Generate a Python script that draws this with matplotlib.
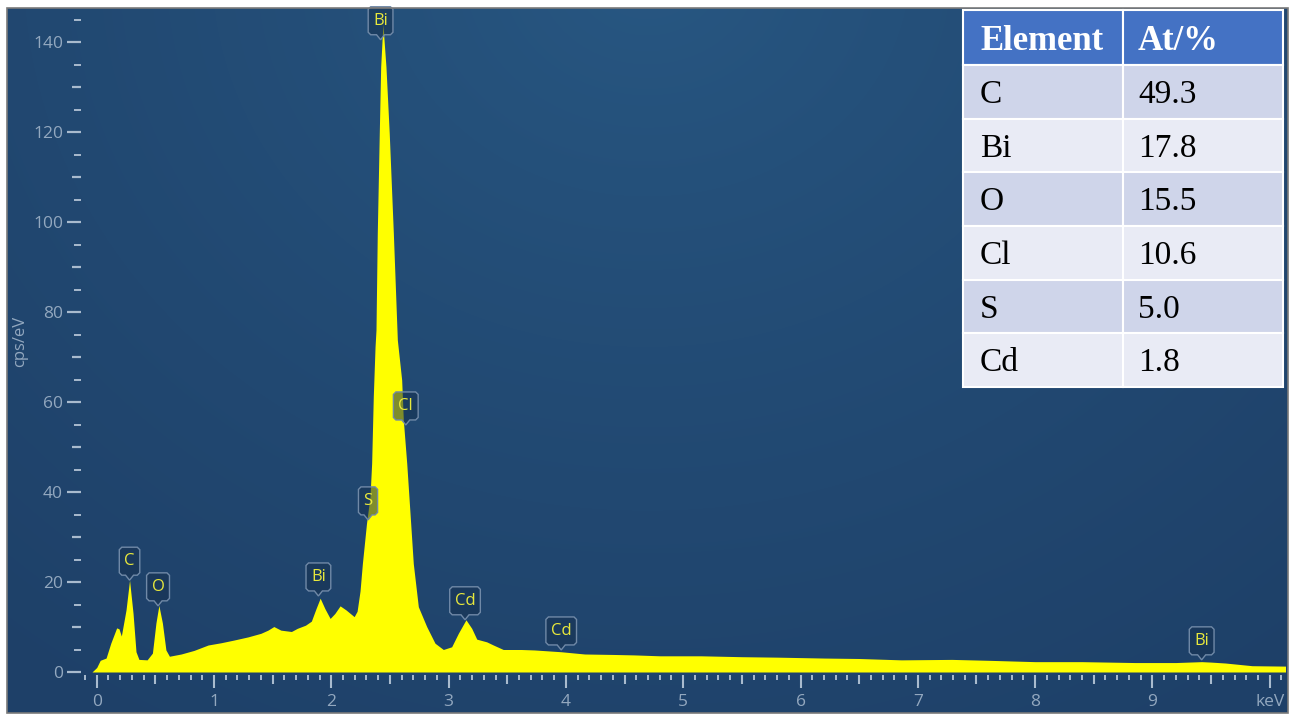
import numpy as np
import matplotlib
matplotlib.use('Agg')
import matplotlib.pyplot as plt
import matplotlib.transforms as mtransforms
from matplotlib.patches import Polygon, Rectangle
from matplotlib.ticker import FixedLocator, FuncFormatter

W, H = 1291, 715

# EDS spectrum, energy in keV and intensity in cps/eV
energy = [-0.04, 0.0, 0.03, 0.08, 0.12, 0.17, 0.19, 0.21, 0.25, 0.28, 0.31, 0.335, 0.36, 0.43,
          0.475, 0.505, 0.53, 0.56, 0.59, 0.62, 0.72, 0.83, 0.95, 1.06, 1.17, 1.29, 1.40,
          1.46, 1.51, 1.57, 1.66, 1.71, 1.78, 1.83, 1.87, 1.905, 1.945, 1.99, 2.03, 2.075,
          2.125, 2.195, 2.22, 2.245, 2.265, 2.30, 2.33, 2.344, 2.358, 2.373, 2.381, 2.392,
          2.409, 2.421, 2.436, 2.442, 2.448, 2.466, 2.494, 2.529, 2.563, 2.600, 2.614,
          2.643, 2.671, 2.699, 2.742, 2.813, 2.884, 2.955, 3.026, 3.083, 3.148, 3.197,
          3.24, 3.325, 3.381, 3.466, 3.62, 3.73, 3.96, 4.16, 4.4, 4.58, 4.8, 5.15, 5.5,
          5.8, 6.0, 6.2, 6.5, 6.86, 7.29, 7.6, 8.0, 8.4, 8.85, 9.2, 9.42, 9.5, 9.62,
          9.85, 10.16]
cps = [0.0, 1.0, 2.6, 3.1, 6.4, 9.8, 9.6, 8.0, 13.8, 20.4, 13.0, 4.5, 2.8, 2.7,
       4.2, 10.9, 14.8, 10.9, 4.9, 3.5, 4.0, 4.8, 6.0, 6.5, 7.1, 7.8, 8.6,
       9.3, 10.1, 9.3, 9.0, 9.7, 10.4, 11.3, 14.1, 16.4, 14.1, 11.9, 13.0, 14.7,
       13.8, 12.3, 13.5, 18.0, 24.1, 33.0, 39.0, 46.4, 61.2, 72.3, 76.0, 97.5,
       119.7, 134.5, 142.0, 144.0, 141.0, 134.5, 119.7, 97.5, 73.8, 64.9, 56.0,
       46.4, 35.3, 24.1, 14.5, 10.1, 6.4, 5.0, 5.6, 8.6, 11.6, 9.7,
       7.3, 6.7, 6.0, 5.0, 5.0, 4.9, 4.5, 4.0, 3.9, 3.8, 3.6, 3.6, 3.4,
       3.3, 3.2, 3.1, 3.0, 2.7, 2.8, 2.6, 2.3, 2.3, 2.1, 2.1, 2.3, 2.2, 2.0,
       1.4, 1.3]

# peak identification markers
peak_names = ['C', 'O', 'Bi', 'S', 'Bi', 'Cl', 'Cd', 'Cd', 'Bi']
peak_kev = [0.28, 0.523, 1.89, 2.313, 2.42, 2.635, 3.14, 3.96, 9.42]
peak_cps = [20.4, 14.7, 16.9, 33.8, 140.5, 54.9, 11.6, 4.9, 2.7]

# quantification table
elements = ['C', 'Bi', 'O', 'Cl', 'S', 'Cd']
at_pct = [49.3, 17.8, 15.5, 10.6, 5.0, 1.8]

tick_col = '#a9bbce'
label_col = '#93a8bf'
yellow = '#ffff00'
tag_yellow = '#e8e83c'


def fx(px):
    return px / W


def fy(py):
    return 1 - py / H


fig = plt.figure(figsize=(W / 100, H / 100), dpi=100)
fig.patch.set_facecolor('white')

# navy panel with a soft radial glow near the top
bg = fig.add_axes([fx(7), fy(713), fx(1288) - fx(7), fy(8) - fy(713)])
bg.set_axis_off()
yy, xx = np.mgrid[0:705, 0:1281]
r = np.hypot((xx - 640) / 1.15, yy + 40) / 900.0
r = np.clip(r, 0, 1) ** 0.8
c_in = np.array([40, 88, 131]) / 255.0
c_out = np.array([30, 64, 104]) / 255.0
img = c_in[None, None, :] * (1 - r[..., None]) + c_out[None, None, :] * r[..., None]
bg.imshow(img, aspect='auto', interpolation='bilinear')
fig.patches.append(Rectangle((fx(7), fy(713)), fx(1288) - fx(7), fy(8) - fy(713),
                             transform=fig.transFigure, fill=False,
                             edgecolor='#7a7a7a', lw=1.2))

ax = fig.add_axes([fx(81), fy(675), fx(1285) - fx(81), fy(10) - fy(675)])
ax.set_facecolor('none')
ax.set_xlim((81 - 96.7) / 117.3, (1285 - 96.7) / 117.3)
ax.set_ylim(-3 / 4.5, 662 / 4.5)
for s in ax.spines.values():
    s.set_visible(False)

ax.fill_between(energy, cps, 0, color=yellow, lw=0, zorder=3)

# ticks: long at labelled values, medium in between, short minors
ax.xaxis.set_major_locator(FixedLocator(np.arange(0, 10.01, 0.5)))
ax.xaxis.set_minor_locator(FixedLocator(np.arange(-0.1, 10.15, 0.1)))
ax.yaxis.set_major_locator(FixedLocator(np.arange(0, 141, 10)))
ax.yaxis.set_minor_locator(FixedLocator(np.arange(5, 146, 10)))


def xfmt(v, pos):
    if abs(v - 10) < 1e-6:
        return 'keV'
    if abs(v - round(v)) < 1e-6:
        return str(int(round(v)))
    return ''


def yfmt(v, pos):
    return str(int(v)) if int(round(v)) % 20 == 0 else ''


ax.xaxis.set_major_formatter(FuncFormatter(xfmt))
ax.yaxis.set_major_formatter(FuncFormatter(yfmt))
ax.tick_params(axis='both', which='both', direction='out', colors=tick_col,
               labelcolor=label_col, labelsize=12.5)
ax.tick_params(axis='x', which='major', length=9.4, width=1.5, pad=4)
ax.tick_params(axis='x', which='minor', length=3.6, width=1.4)
ax.tick_params(axis='y', which='major', length=10, width=1.6, pad=3)
ax.tick_params(axis='y', which='minor', length=5, width=1.4)
for lab in ax.get_xticklabels() + ax.get_yticklabels():
    lab.set_family('Open Sans')

for loc, t in zip(ax.xaxis.get_majorticklocs(), ax.xaxis.get_major_ticks()):
    if abs(loc - round(loc)) > 1e-6:
        t.tick1line.set_markersize(6.5)
for loc, t in zip(ax.yaxis.get_majorticklocs(), ax.yaxis.get_major_ticks()):
    if int(round(loc)) % 20 != 0:
        t.tick1line.set_markersize(6.5)

fig.text(fx(20), fy(341), 'cps/eV', rotation=90, ha='center', va='center',
         color=label_col, fontsize=12, family='Open Sans')

# peak tags: translucent box with a pointer down to the line position
renderer = fig.canvas.get_renderer()
for name, kev, val in zip(peak_names, peak_kev, peak_cps):
    t = ax.annotate(name, (kev, val), xytext=(0, 19), textcoords='offset pixels',
                    ha='center', va='center', color=tag_yellow, fontsize=12,
                    family='Open Sans', zorder=6, annotation_clip=False)
    w = t.get_window_extent(renderer).width / 2 + 5
    h0, h1, c = 5, 33, 2.5
    verts = [(0, 0), (-4, h0), (-w + c, h0), (-w, h0 + c), (-w, h1 - c), (-w + c, h1),
             (w - c, h1), (w, h1 - c), (w, h0 + c), (w - c, h0), (4, h0)]
    tr = mtransforms.ScaledTranslation(kev, val, ax.transData)
    ax.add_patch(Polygon(verts, closed=True, transform=tr, facecolor='#16304f',
                         alpha=0.55, edgecolor='none', zorder=5, clip_on=False))
    ax.add_patch(Polygon(verts, closed=True, transform=tr, facecolor='none',
                         edgecolor='#7089a7', lw=1.0, zorder=5, clip_on=False))

# composition table
tl, tm, tr_, tt, th = 963, 1123, 1283, 10, 65
rh = (387 - th) / len(elements)


def cell(x0, y0, x1, y1, color):
    fig.patches.append(Rectangle((fx(x0), fy(y1)), fx(x1) - fx(x0), fy(y0) - fy(y1),
                                 transform=fig.transFigure, facecolor=color,
                                 edgecolor='white', lw=1.5, zorder=10))


cell(tl, tt, tm, th, '#4472c4')
cell(tm, tt, tr_, th, '#4472c4')
fig.text(fx(980), fy((tt + th) / 2 + 4), 'Element', ha='left', va='center',
         family='Liberation Serif', weight='bold', fontsize=25, color='white', zorder=11)
fig.text(fx(1138), fy((tt + th) / 2 + 4), 'At/%', ha='left', va='center',
         family='Liberation Serif', weight='bold', fontsize=25, color='white', zorder=11)
for i, (el, pct) in enumerate(zip(elements, at_pct)):
    y0 = th + i * rh
    col = '#cfd5ea' if i % 2 == 0 else '#e9ebf5'
    cell(tl, y0, tm, y0 + rh, col)
    cell(tm, y0, tr_, y0 + rh, col)
    fig.text(fx(980), fy(y0 + rh / 2 + 3), el, ha='left', va='center',
             family='Liberation Serif', fontsize=24, color='black', zorder=11)
    fig.text(fx(1138), fy(y0 + rh / 2 + 3), f'{pct:.1f}', ha='left', va='center',
             family='Liberation Serif', fontsize=24, color='black', zorder=11)

fig.savefig('out.png', dpi=100)
